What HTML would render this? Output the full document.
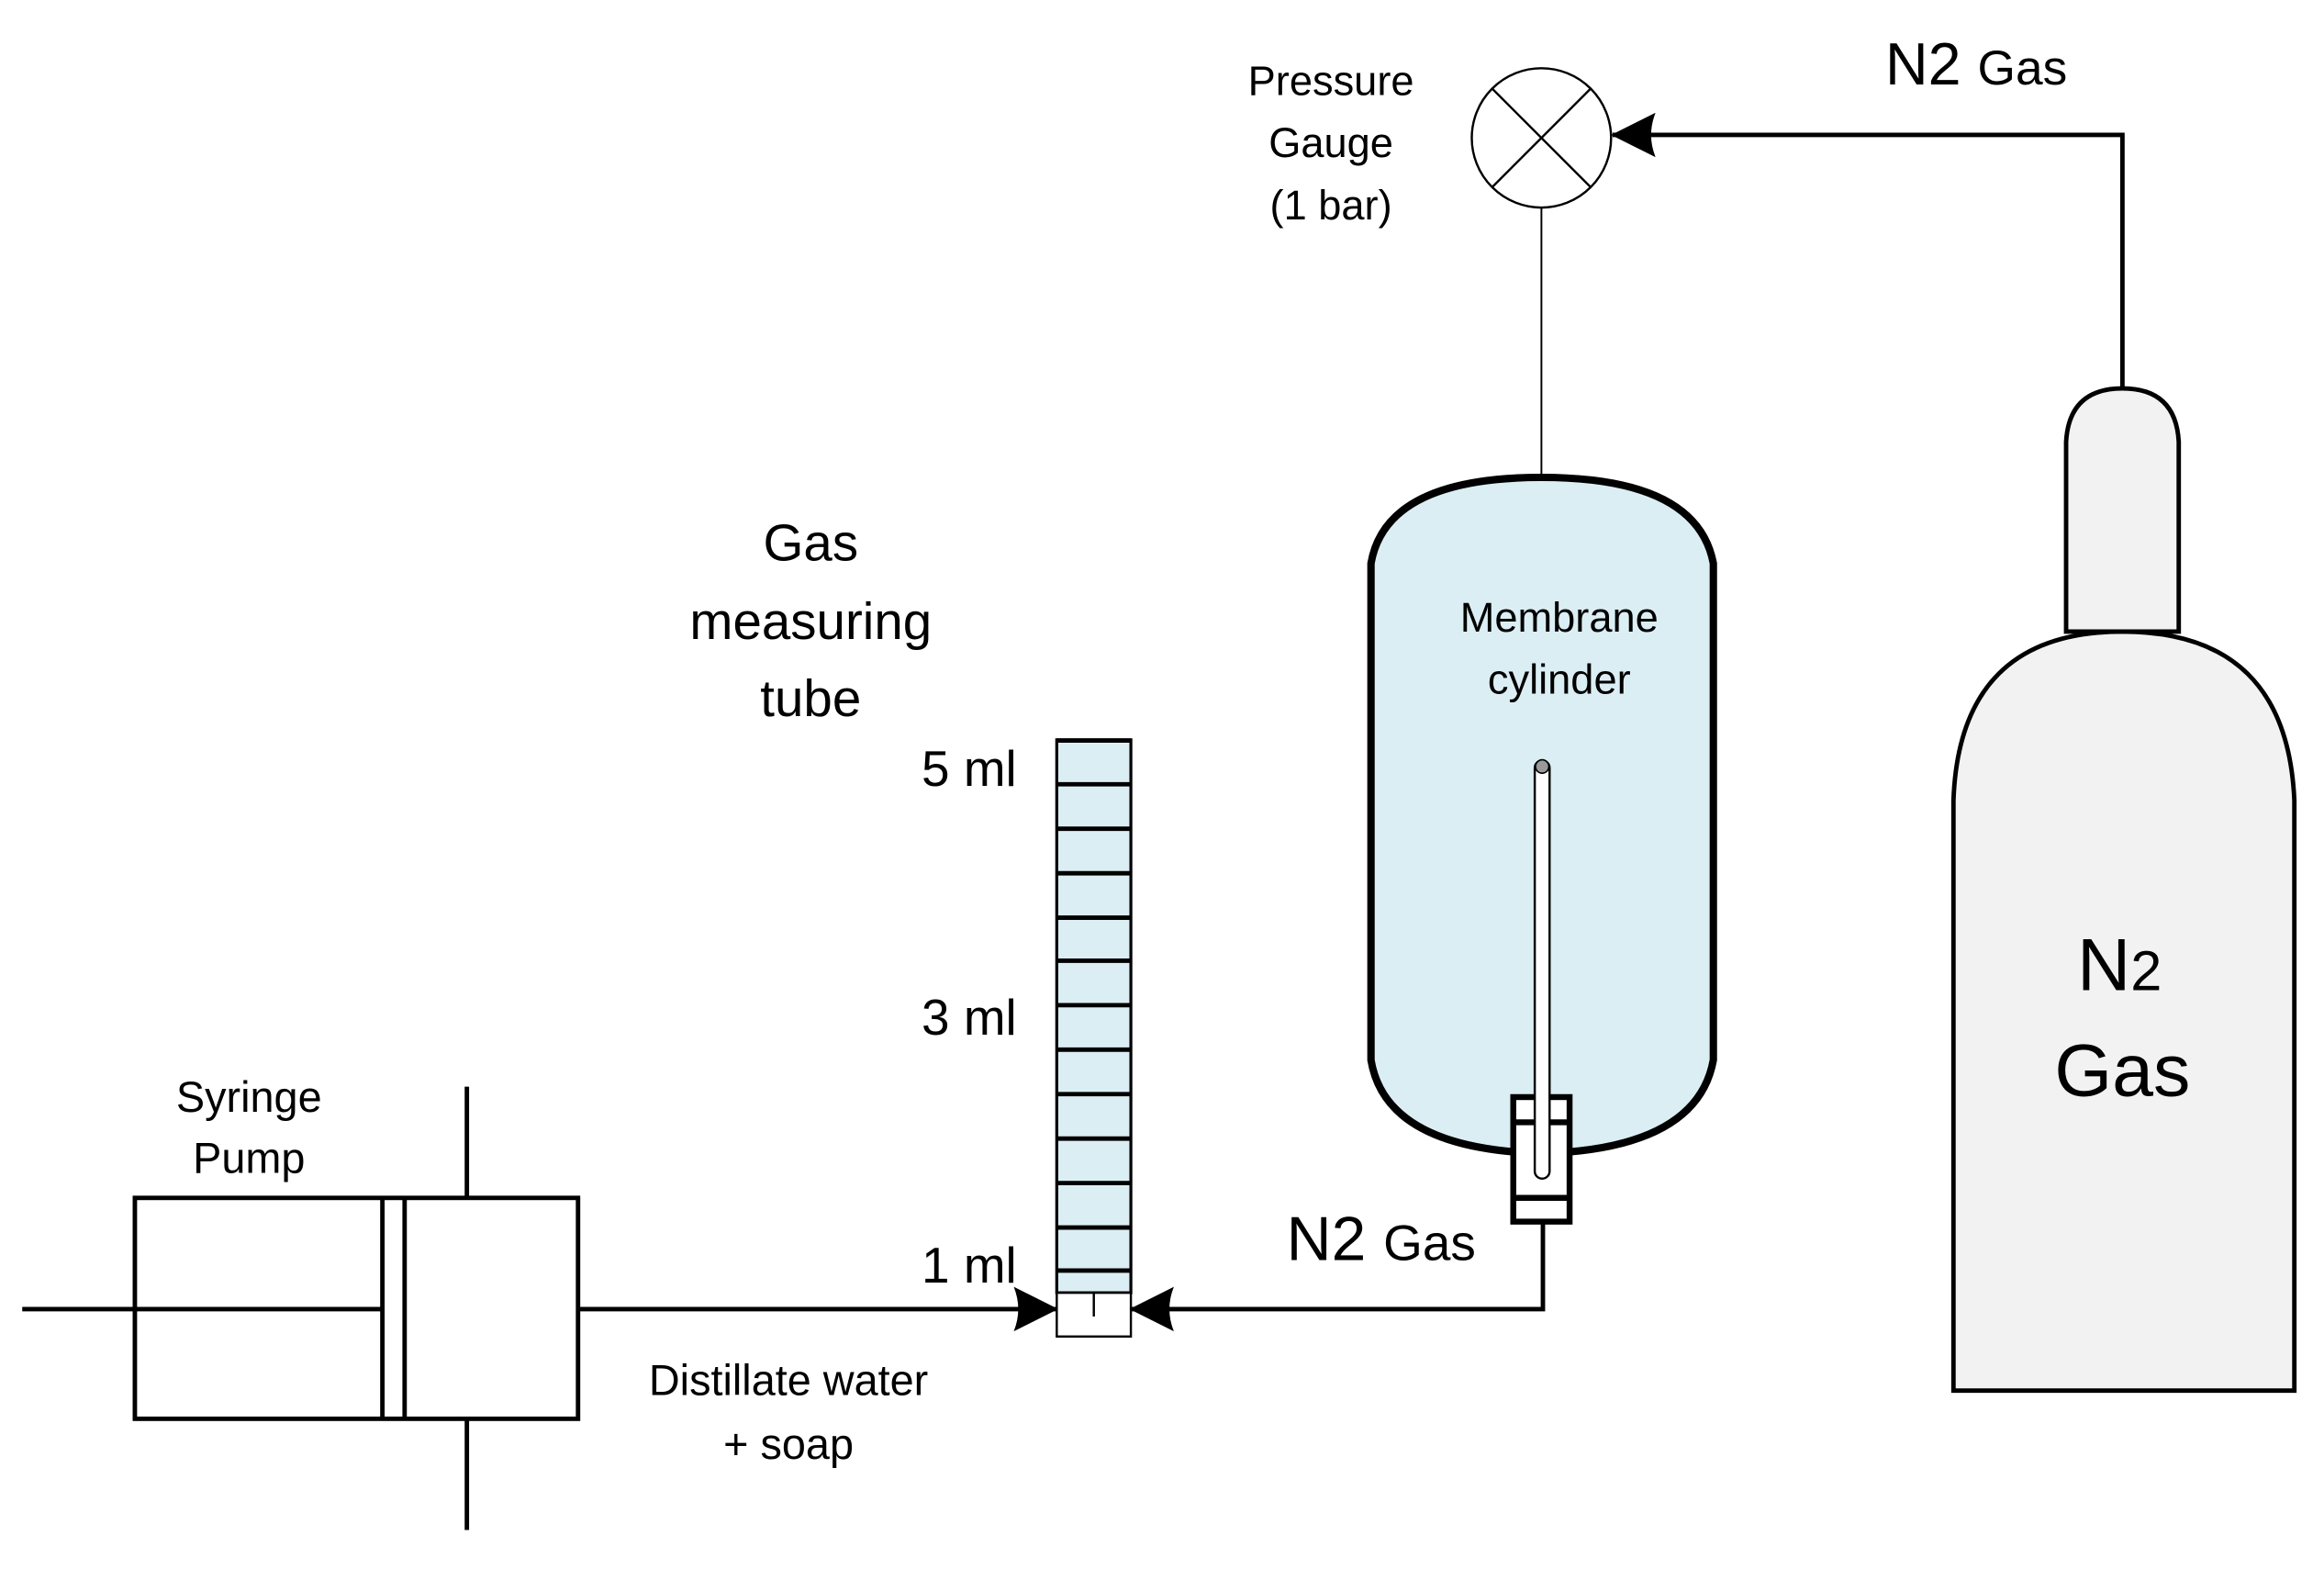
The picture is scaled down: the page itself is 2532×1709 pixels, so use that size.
<!DOCTYPE html>
<html><head><meta charset="utf-8"><style>html,body{margin:0;padding:0;background:#fff}svg{display:block}</style></head>
<body>
<svg width="2532" height="1709" viewBox="0 0 1568 1058.3" xmlns="http://www.w3.org/2000/svg" font-family="Liberation Sans, sans-serif" fill="#000">
<defs>
<marker id="ah" viewBox="0 0 30 30" refX="29" refY="15" markerWidth="30" markerHeight="30" markerUnits="userSpaceOnUse" orient="auto">
<path d="M0,0 Q6,15 0,30 L30,15 Z" fill="#000"/>
</marker>
</defs>
<!-- syringe pump -->
<rect x="91" y="808" width="299" height="149" fill="none" stroke="#000" stroke-width="3"/>
<line x1="258" y1="808" x2="258" y2="957" stroke="#000" stroke-width="3"/>
<line x1="273" y1="808" x2="273" y2="957" stroke="#000" stroke-width="3"/>
<line x1="15" y1="883" x2="258" y2="883" stroke="#000" stroke-width="3"/>
<line x1="315" y1="733" x2="315" y2="808" stroke="#000" stroke-width="3"/>
<line x1="315" y1="957" x2="315" y2="1032" stroke="#000" stroke-width="3"/>
<line x1="390" y1="883" x2="713" y2="883" stroke="#000" stroke-width="3" marker-end="url(#ah)"/>
<text x="168" y="750" font-size="29" text-anchor="middle">Syringe</text>
<text x="168" y="791" font-size="29" text-anchor="middle">Pump</text>
<text x="532" y="941" font-size="29" text-anchor="middle">Distillate water</text>
<text x="532" y="984" font-size="29" text-anchor="middle">+ soap</text>
<!-- tube -->
<rect x="713" y="499" width="50" height="373" fill="#dbeef4" stroke="#000" stroke-width="2"/>
<g stroke="#000" stroke-width="3">
<line x1="713" y1="499.5" x2="763" y2="499.5"/>
<line x1="713" y1="529" x2="763" y2="529"/>
<line x1="713" y1="559" x2="763" y2="559"/>
<line x1="713" y1="589" x2="763" y2="589"/>
<line x1="713" y1="619" x2="763" y2="619"/>
<line x1="713" y1="648" x2="763" y2="648"/>
<line x1="713" y1="678" x2="763" y2="678"/>
<line x1="713" y1="708" x2="763" y2="708"/>
<line x1="713" y1="738" x2="763" y2="738"/>
<line x1="713" y1="768" x2="763" y2="768"/>
<line x1="713" y1="798" x2="763" y2="798"/>
<line x1="713" y1="828" x2="763" y2="828"/>
<line x1="713" y1="857" x2="763" y2="857"/>
</g>
<rect x="713" y="872" width="50" height="29.5" fill="#fff" stroke="#000" stroke-width="1.5"/>
<line x1="738" y1="872" x2="738" y2="888" stroke="#000" stroke-width="1.5"/>
<text x="686" y="530" font-size="34" text-anchor="end">5 ml</text>
<text x="686" y="698" font-size="34" text-anchor="end">3 ml</text>
<text x="686" y="865" font-size="34" text-anchor="end">1 ml</text>
<text x="547" y="378" font-size="35" text-anchor="middle">Gas</text>
<text x="547" y="431" font-size="35" text-anchor="middle">measuring</text>
<text x="547" y="483" font-size="35" text-anchor="middle">tube</text>
<!-- N2 line bottom -->
<polyline points="1041,825 1041,883 763,883" fill="none" stroke="#000" stroke-width="3" marker-end="url(#ah)"/>
<text x="868" y="850" font-size="42">N2 <tspan font-size="34">Gas</tspan></text>
<!-- membrane cylinder -->
<path d="M925,715 L925,380 Q935,322 1040,322 Q1145,322 1156,380 L1156,715 Q1145,775 1040,778 Q935,775 925,715 Z" fill="#dbeef4" stroke="#000" stroke-width="5"/>
<text x="1052" y="426" font-size="28" text-anchor="middle">Membrane</text>
<text x="1052" y="468" font-size="28" text-anchor="middle">cylinder</text>
<rect x="1021" y="740" width="38" height="84" fill="#fff" stroke="#000" stroke-width="4"/>
<line x1="1021" y1="757" x2="1059" y2="757" stroke="#000" stroke-width="4"/>
<line x1="1021" y1="808" x2="1059" y2="808" stroke="#000" stroke-width="4"/>
<rect x="1035.5" y="513" width="10" height="282" rx="5" fill="#fff" stroke="#000" stroke-width="1.5"/>
<circle cx="1040.5" cy="517" r="4.5" fill="#999" stroke="#000" stroke-width="1"/>
<!-- gauge -->
<line x1="1040" y1="140" x2="1040" y2="322" stroke="#000" stroke-width="1.2"/>
<circle cx="1040" cy="93" r="47" fill="#fff" stroke="#000" stroke-width="1.5"/>
<line x1="1007" y1="60" x2="1073" y2="126" stroke="#000" stroke-width="1.5"/>
<line x1="1073" y1="60" x2="1007" y2="126" stroke="#000" stroke-width="1.5"/>
<text x="898" y="64" font-size="28" text-anchor="middle">Pressure</text>
<text x="898" y="106" font-size="28" text-anchor="middle">Gauge</text>
<text x="898" y="148" font-size="28" text-anchor="middle">(1 bar)</text>
<!-- N2 line top -->
<polyline points="1432,262 1432,91 1088,91" fill="none" stroke="#000" stroke-width="3" marker-end="url(#ah)"/>
<text x="1272" y="57" font-size="40">N2 <tspan font-size="33">Gas</tspan></text>
<!-- gas cylinder -->
<path d="M1318,938 L1318,540 Q1322,426 1432,426 Q1543,426 1548,540 L1548,938 Z" fill="#f2f2f2" stroke="#000" stroke-width="3"/>
<path d="M1394,426 L1394,298 Q1396,262 1432,262 Q1468,262 1470,298 L1470,426 Z" fill="#f2f2f2" stroke="#000" stroke-width="3"/>
<text x="1430" y="668" font-size="50" text-anchor="middle">N<tspan font-size="38">2</tspan></text>
<text x="1432" y="739" font-size="50" text-anchor="middle">Gas</text>
</svg>
</body></html>
